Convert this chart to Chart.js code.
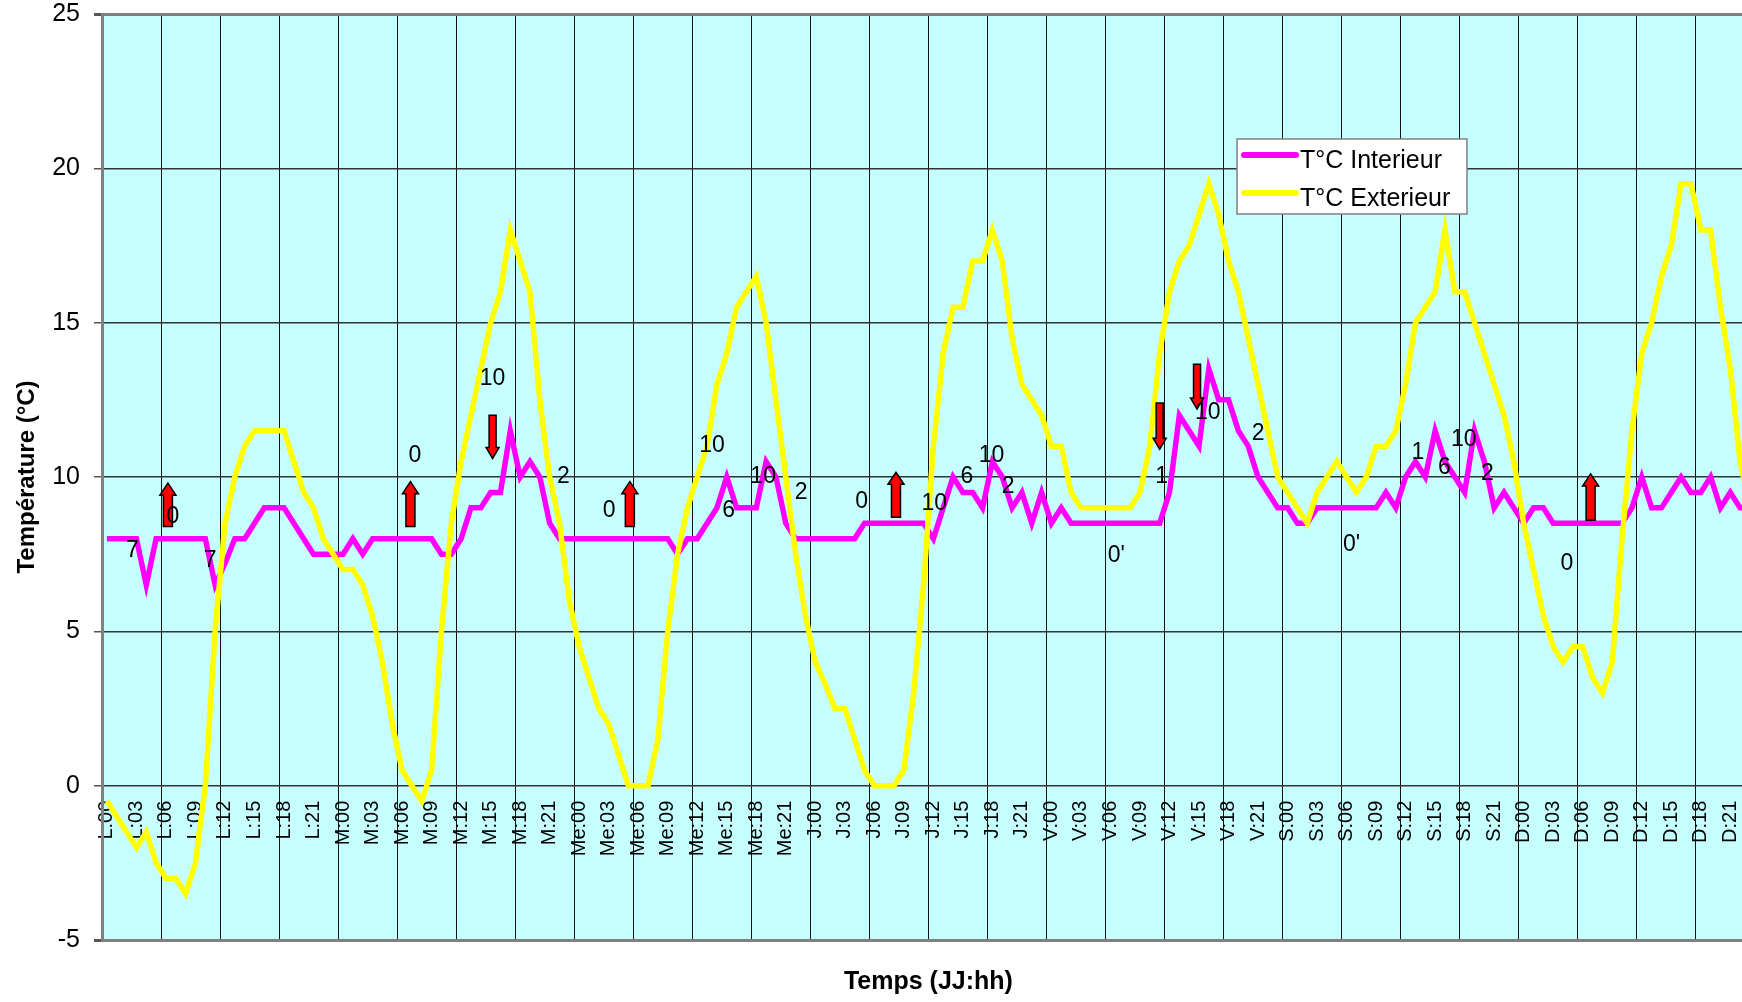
<!DOCTYPE html>
<html>
<head>
<meta charset="utf-8">
<title>Températures</title>
<script src="https://cdn.jsdelivr.net/npm/chart.js@4.4.1/dist/chart.umd.min.js"></script>
<style>
  html, body { margin: 0; padding: 0; background: #fff; overflow: hidden; }
  canvas { display: block; }
</style>
</head>
<body>
<canvas id="tempChart" width="1760" height="1002"></canvas>
<script>
// categories: one point per hour, L:00 .. D:23
const days = ['L', 'M', 'Me', 'J', 'V', 'S', 'D'];
const hours = ['00', '01', '02', '03', '04', '05', '06', '07', '08', '09', '10', '11',
               '12', '13', '14', '15', '16', '17', '18', '19', '20', '21', '22', '23'];
const labels = days.flatMap(d => hours.map(h => d + ':' + h));

// T°C Interieur, per day (24 values each)
const interieur = [
  8, 8, 8, 8, 6.5, 8, 8, 8, 8, 8, 8, 6.5, 7.2, 8, 8, 8.5, 9, 9, 9, 8.5, 8, 7.5, 7.5, 7.5,              // L
  7.5, 8, 7.5, 8, 8, 8, 8, 8, 8, 8, 7.5, 7.5, 8, 9, 9, 9.5, 9.5, 11.5, 10, 10.5, 10, 8.5, 8, 8,         // M
  8, 8, 8, 8, 8, 8, 8, 8, 8, 8, 7.5, 8, 8, 8.5, 9, 10, 9, 9, 9, 10.5, 10, 8.5, 8, 8,                    // Me
  8, 8, 8, 8, 8, 8.5, 8.5, 8.5, 8.5, 8.5, 8.5, 8.5, 8, 9, 10, 9.5, 9.5, 9, 10.5, 10, 9, 9.5, 8.5, 9.5,  // J
  8.5, 9, 8.5, 8.5, 8.5, 8.5, 8.5, 8.5, 8.5, 8.5, 8.5, 8.5, 9.5, 12, 11.5, 11, 13.5, 12.5, 12.5, 11.5, 11, 10, 9.5, 9, // V
  9, 8.5, 8.5, 9, 9, 9, 9, 9, 9, 9, 9.5, 9, 10, 10.5, 10, 11.5, 10.5, 10, 9.5, 11.5, 10.5, 9, 9.5, 9,  // S
  8.5, 9, 9, 8.5, 8.5, 8.5, 8.5, 8.5, 8.5, 8.5, 8.5, 9, 10, 9, 9, 9.5, 10, 9.5, 9.5, 10, 9, 9.5, 9, 9  // D
];

// T°C Exterieur
const exterieur = [
  -0.5, -1, -1.5, -2, -1.5, -2.5, -3, -3, -3.5, -2.5, 0, 5, 8.5, 10, 11, 11.5, 11.5, 11.5, 11.5, 10.5, 9.5, 9, 8, 7.5, // L
  7, 7, 6.5, 5.5, 4, 2, 0.5, 0, -0.5, 0.5, 5, 8.5, 10.5, 12, 13.5, 15, 16, 18, 17, 16, 12.5, 10, 8.5, 6,              // M
  4.5, 3.5, 2.5, 2, 1, 0, 0, 0, 1.5, 5, 7.5, 9, 10, 11, 13, 14, 15.5, 16, 16.5, 15, 12.5, 10, 7.5, 5.5,                // Me
  4, 3.3, 2.5, 2.5, 1.5, 0.5, 0, 0, 0, 0.5, 3, 6.5, 11, 14, 15.5, 15.5, 17, 17, 18, 17, 14.5, 13, 12.5, 12,            // J
  11, 11, 9.5, 9, 9, 9, 9, 9, 9, 9.5, 11, 14, 16, 17, 17.5, 18.5, 19.5, 18.5, 17, 16, 14.5, 13, 11.5, 10,               // V
  9.5, 9, 8.5, 9.5, 10, 10.5, 10, 9.5, 10, 11, 11, 11.5, 13, 15, 15.5, 16, 18, 16, 16, 15, 14, 13, 12, 10.5,          // S
  8.5, 7, 5.5, 4.5, 4, 4.5, 4.5, 3.5, 3, 4, 8, 11.5, 14, 15, 16.5, 17.5, 19.5, 19.5, 18, 18, 15.5, 13.5, 10.5, 9       // D
];

// y axis
const yMin = -5, yMax = 25, yStep = 5;

// notes written on the chart: [hour index, °C, text]
const notes = [
  [2.6, 7.6, '7'], [6.7, 8.7, '0'], [10.5, 7.3, '7'],
  [31.3, 10.7, '0'], [39.2, 13.2, '10'], [46.4, 10.0, '2'], [51.05, 8.9, '0'],
  [61.5, 11.0, '10'], [63.2, 8.9, '6'], [66.7, 10.0, '10'], [70.55, 9.5, '2'], [76.7, 9.2, '0'],
  [84.1, 9.15, '10'], [87.4, 10.0, '6'], [89.9, 10.7, '10'], [91.6, 9.7, '2'], [102.6, 7.46, "0'"],
  [107.2, 10.0, '1'], [111.9, 12.1, '10'], [117.0, 11.4, '2'], [126.5, 7.8, "0'"], [133.25, 10.8, '1'],
  [135.95, 10.3, '6'], [137.9, 11.2, '10'], [140.3, 10.1, '2'], [148.4, 7.2, '0']
];

// red arrows: [hour index, tail °C, tip °C]
const arrows = [
  [6.2, 8.4, 9.8], [30.85, 8.4, 9.85], [39.2, 12.0, 10.6], [53.15, 8.4, 9.85],
  [80.2, 8.7, 10.15], [107.0, 12.4, 10.9], [110.8, 13.65, 12.2], [150.8, 8.6, 10.1]
];

const FONT = '"Liberation Sans", Arial, sans-serif';
Chart.defaults.font.family = FONT;
Chart.defaults.color = '#000';

const plotBg = {
  id: 'plotBg',
  beforeDraw(chart) {
    const { ctx, chartArea: a } = chart;
    ctx.save();
    ctx.fillStyle = '#C6FFFF';
    ctx.fillRect(a.left, a.top, a.right - a.left, a.bottom - a.top);
    ctx.restore();
  }
};

const marks = {
  id: 'marks',
  afterDatasetsDraw(chart) {
    const { ctx, scales: { x, y } } = chart;
    ctx.save();
    arrows.forEach(([at, from, to]) => {
      const px = x.getPixelForValue(at);
      const y0 = y.getPixelForValue(from);
      const y1 = y.getPixelForValue(to);
      const dir = Math.sign(y1 - y0);
      const up = dir < 0;
      const shaft = up ? 4.5 : 3.5, head = up ? 8 : 6.5, headLen = up ? 12 : 11;
      const yh = y1 - dir * headLen;
      ctx.beginPath();
      ctx.moveTo(px - shaft, y0);
      ctx.lineTo(px - shaft, yh);
      ctx.lineTo(px - head, yh);
      ctx.lineTo(px, y1);
      ctx.lineTo(px + head, yh);
      ctx.lineTo(px + shaft, yh);
      ctx.lineTo(px + shaft, y0);
      ctx.closePath();
      ctx.fillStyle = '#FF0000';
      ctx.fill();
      ctx.strokeStyle = '#000';
      ctx.lineWidth = 1.5;
      ctx.stroke();
    });
    ctx.font = '23px ' + FONT;
    ctx.fillStyle = '#000';
    ctx.textAlign = 'center';
    ctx.textBaseline = 'middle';
    notes.forEach(([at, v, t]) => ctx.fillText(t, x.getPixelForValue(at), y.getPixelForValue(v)));
    ctx.restore();
  }
};

// legend box drawn inside the plot, like the original
const boxLegend = {
  id: 'boxLegend',
  afterDraw(chart) {
    const ctx = chart.ctx;
    const bx = 1237, by = 139, bw = 230, bh = 75;
    ctx.save();
    ctx.fillStyle = '#fff';
    ctx.fillRect(bx, by, bw, bh);
    ctx.strokeStyle = '#808080';
    ctx.lineWidth = 1.5;
    ctx.strokeRect(bx, by, bw, bh);
    chart.data.datasets.forEach((ds, k) => {
      const ly = by + 16 + k * 38;
      ctx.strokeStyle = ds.borderColor;
      ctx.lineWidth = 6;
      ctx.lineCap = 'round';
      ctx.beginPath();
      ctx.moveTo(bx + 7, ly);
      ctx.lineTo(bx + 59, ly);
      ctx.stroke();
      ctx.fillStyle = '#000';
      ctx.font = '25px ' + FONT;
      ctx.textAlign = 'left';
      ctx.textBaseline = 'alphabetic';
      ctx.fillText(ds.label, bx + 63, ly + 13);
    });
    ctx.restore();
  }
};

const ctx = document.getElementById('tempChart').getContext('2d');
const tempChart = new Chart(ctx, {
  type: 'line',
  data: {
    labels: labels,
    datasets: [
      { label: 'T°C Interieur', data: interieur, borderColor: '#FF00FF', backgroundColor: '#FF00FF',
        borderWidth: 5.5, pointRadius: 0, tension: 0, order: 1 },
      { label: 'T°C Exterieur', data: exterieur, borderColor: '#FFFF00', backgroundColor: '#FFFF00',
        borderWidth: 5.5, pointRadius: 0, tension: 0, order: 0 }
    ]
  },
  options: {
    responsive: false,
    animation: false,
    events: [],
    layout: { autoPadding: false, padding: { left: 0, right: 5, top: 14, bottom: 0 } },
    plugins: {
      legend: { display: false },
      tooltip: { enabled: false },
      title: {
        display: true, text: 'Temps (JJ:hh)', position: 'bottom', fullSize: false, color: '#000',
        font: { size: 25, weight: 'bold', lineHeight: 1.2 }, padding: { top: 27, bottom: 5 }
      }
    },
    scales: {
      x: {
        type: 'category',
        position: { y: 0 },
        offset: true,
        grid: {
          offset: true,
          color: c => (c.index % 6 === 0 ? '#111' : 'rgba(0,0,0,0)'),
          lineWidth: 1,
          tickLength: 5
        },
        border: { display: false },
        ticks: {
          autoSkip: false, minRotation: 90, maxRotation: 90, padding: 10,
          font: { size: 20, lineHeight: 0 }, color: '#000',
          callback: (v, i) => (i % 3 === 0 ? labels[i] : '')
        }
      },
      y: {
        min: yMin, max: yMax,
        afterFit(s) { s.width = 102; },
        ticks: { stepSize: yStep, padding: 14, font: { size: 25, lineHeight: 0 }, color: '#000' },
        grid: {
          color: c => (c.tick && (c.tick.value === yMax || c.tick.value === yMin) ? '#808080' : '#333'),
          lineWidth: c => (c.tick && (c.tick.value === yMax || c.tick.value === yMin) ? 3 : 1.5),
          tickLength: 8,
          tickColor: '#555'
        },
        border: { color: '#808080', width: 3 },
        title: {
          display: true, text: 'Température (°C)', color: '#000',
          font: { size: 24, weight: 'bold', lineHeight: 1.2 }, padding: { top: 13, bottom: 0 }
        }
      }
    }
  },
  plugins: [plotBg, marks, boxLegend]
});
</script>
</body>
</html>
